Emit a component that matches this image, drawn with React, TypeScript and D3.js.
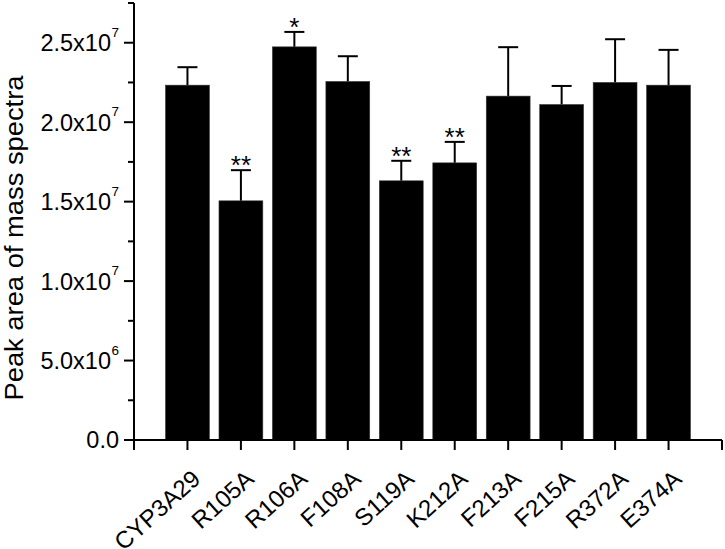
import { useEffect } from 'react'
import * as d3 from 'd3'

const CATEGORIES = ['CYP3A29', 'R105A', 'R106A', 'F108A', 'S119A', 'K212A', 'F213A', 'F215A', 'R372A', 'E374A']
const MEANS = [2.233e7, 1.505e7, 2.474e7, 2.256e7, 1.631e7, 1.744e7, 2.164e7, 2.111e7, 2.250e7, 2.233e7]
const ERRORS = [0.113e7, 0.193e7, 0.094e7, 0.159e7, 0.126e7, 0.132e7, 0.308e7, 0.117e7, 0.272e7, 0.222e7]
const STARS = ['', '**', '*', '', '**', '**', '', '', '', '']
const Y_TICKS = [0, 5e6, 1e7, 1.5e7, 2e7, 2.5e7]
const Y_MINOR = [2.5e6, 7.5e6, 1.25e7, 1.75e7, 2.25e7, 2.75e7]

const W = 725, H = 549
const FONT = 'Arial, "Liberation Sans", sans-serif'

function fmtTick(v: number) {
  if (v === 0) return { base: '0.0', exp: '' }
  const exp = Math.floor(Math.log10(v))
  const mant = v / Math.pow(10, exp)
  return { base: `${mant.toFixed(1)}x10`, exp: `${exp}` }
}

export default function App() {
  useEffect(() => { document.body.style.margin = '0' }, [])

  const x = d3.scaleLinear().domain([0, CATEGORIES.length + 1]).range([134, 722])
  const y = d3.scaleLinear().domain([0, 2.75e7]).range([440, 3])
  const slot = x(1) - x(0)
  const bw = slot * 0.82
  const capW = 20

  return (
    <svg width={W} height={H} style={{ display: 'block', background: '#fff' }} fontFamily={FONT}>
      {/* bars */}
      {MEANS.map((m, i) => {
        const cx = x(i + 1)
        const top = y(m)
        const cap = y(m + ERRORS[i])
        return (
          <g key={i}>
            <line x1={cx} x2={cx} y1={top} y2={cap} stroke="#000" strokeWidth={2} />
            <line x1={cx - capW / 2} x2={cx + capW / 2} y1={cap} y2={cap} stroke="#000" strokeWidth={2} />
            <rect x={cx - bw / 2} y={top} width={bw} height={y(0) - top} fill="#000" stroke="#333" strokeWidth={0.6} />
            {STARS[i] && (
              <text x={cx} y={cap + 4} textAnchor="middle" fontSize={26} fill="#000">{STARS[i]}</text>
            )}
          </g>
        )
      })}

      {/* y axis */}
      <line x1={x(0)} x2={x(0)} y1={y(2.75e7)} y2={y(0)} stroke="#000" strokeWidth={2} />
      {Y_TICKS.map(t => {
        const f = fmtTick(t)
        return (
          <g key={t} transform={`translate(${x(0)},${y(t)})`}>
            <line x1={-10} x2={0} stroke="#000" strokeWidth={2} />
            <text x={f.exp ? -23 : -15} dy="0.36em" textAnchor="end" fontSize={23.5} fill="#000">{f.base}</text>
            {f.exp && <text x={-15} y={-6} textAnchor="end" fontSize={13.5} fill="#000">{f.exp}</text>}
          </g>
        )
      })}
      {Y_MINOR.map(t => (
        <line key={t} x1={x(0) - 6} x2={x(0)} y1={y(t)} y2={y(t)} stroke="#000" strokeWidth={2} />
      ))}

      {/* x axis */}
      <line x1={x(0)} x2={x(CATEGORIES.length + 1)} y1={y(0)} y2={y(0)} stroke="#000" strokeWidth={2} />
      {d3.range(0, CATEGORIES.length + 2).map(k => (
        <line key={k} x1={x(k)} x2={x(k)} y1={y(0)} y2={y(0) + 10} stroke="#000" strokeWidth={2} />
      ))}
      {CATEGORIES.map((c, i) => (
        <text key={c} transform={`translate(${x(i + 1) + 14.5},${y(0) + 41}) rotate(-42)`}
          textAnchor="end" fontSize={24} fill="#000">{c}</text>
      ))}

      {/* y label */}
      <text transform={`translate(23,238) rotate(-90)`} textAnchor="middle" fontSize={25}
        textLength={325} lengthAdjust="spacingAndGlyphs" fill="#000">
        Peak area of mass spectra
      </text>
    </svg>
  )
}
